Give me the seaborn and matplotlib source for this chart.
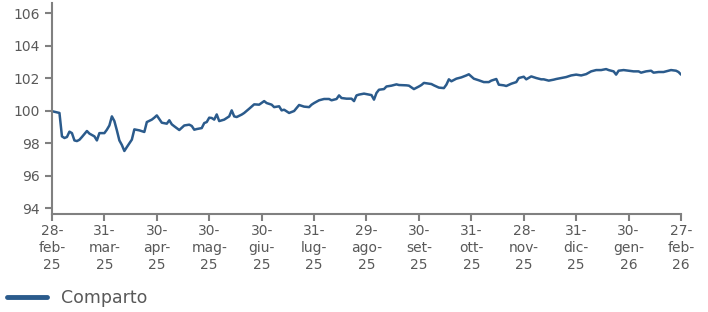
import pandas as pd
import matplotlib.pyplot as plt
from matplotlib.lines import Line2D
import seaborn as sns

# trading-session index (0 = 28-feb-25) and NAV of the fund
day = [0, 3, 4, 5, 6, 7, 8, 9, 10, 11, 12, 14, 15, 17, 18, 19, 21, 22, 23, 24,
       25, 26, 27, 28, 29, 30, 32, 33, 35, 37, 38, 40, 41, 42, 44, 46, 47, 48, 49, 51,
       53, 55, 56, 57, 58, 60, 61, 62, 63, 64, 65, 66, 67, 69, 71, 72, 73, 74, 76, 77,
       79, 81, 83, 85, 86, 88, 89, 91, 92, 93, 95, 97, 98, 99, 101, 103, 104, 105, 107, 109,
       111, 112, 114, 115, 116, 118, 120, 121, 122, 123, 125, 127, 128, 129, 130, 131, 133, 134, 136, 138,
       139, 142, 143, 145, 147, 148, 149, 151, 152, 153, 155, 157, 158, 159, 160, 162, 164, 166, 167, 169,
       171, 173, 175, 176, 178, 179, 181, 182, 184, 186, 187, 189, 190, 192, 194, 196, 197, 199, 201, 202,
       204, 206, 208, 210, 212, 214, 216, 218, 220, 222, 223, 225, 226, 227, 229, 231, 233, 235, 236, 238,
       240, 241, 243, 245, 247, 248, 250, 251, 252]
nav = [99.98, 99.87, 98.43, 98.33, 98.39, 98.72, 98.63, 98.18, 98.14, 98.22,
       98.39, 98.76, 98.60, 98.43, 98.18, 98.63, 98.63, 98.84, 99.10, 99.66,
       99.37, 98.80, 98.18, 97.90, 97.53, 97.77, 98.23, 98.86, 98.80, 98.70,
       99.31, 99.46, 99.58, 99.72, 99.27, 99.21, 99.42, 99.17, 99.05, 98.82,
       99.10, 99.15, 99.07, 98.84, 98.88, 98.94, 99.25, 99.31, 99.58, 99.56,
       99.46, 99.78, 99.37, 99.46, 99.66, 100.03, 99.66, 99.62, 99.77, 99.87,
       100.13, 100.40, 100.38, 100.60, 100.48, 100.38, 100.23, 100.28, 100.03, 100.07,
       99.87, 99.99, 100.17, 100.36, 100.26, 100.23, 100.38, 100.48, 100.65, 100.73,
       100.73, 100.65, 100.73, 100.95, 100.79, 100.75, 100.75, 100.60, 100.95, 101.00,
       101.06, 101.00, 100.97, 100.69, 101.10, 101.30, 101.34, 101.50, 101.55, 101.63,
       101.59, 101.57, 101.55, 101.34, 101.50, 101.59, 101.72, 101.67, 101.65, 101.57,
       101.43, 101.40, 101.61, 101.94, 101.82, 101.98, 102.06, 102.18, 102.25, 101.98,
       101.88, 101.77, 101.77, 101.86, 101.96, 101.61, 101.57, 101.53, 101.67, 101.77,
       102.02, 102.10, 101.94, 102.12, 102.02, 101.94, 101.94, 101.86, 101.92, 101.96,
       102.02, 102.08, 102.18, 102.23, 102.18, 102.26, 102.43, 102.51, 102.51, 102.57,
       102.51, 102.43, 102.23, 102.47, 102.51, 102.47, 102.43, 102.43, 102.35, 102.43,
       102.47, 102.35, 102.39, 102.39, 102.47, 102.51, 102.47, 102.39, 102.23]

tick_days = [0, 21, 42, 63, 84, 105, 126, 147, 168, 189, 210, 231, 252]
tick_labels = ["28-\nfeb-\n25", "31-\nmar-\n25", "30-\napr-\n25", "30-\nmag-\n25",
               "30-\ngiu-\n25", "31-\nlug-\n25", "29-\nago-\n25", "30-\nset-\n25",
               "31-\nott-\n25", "28-\nnov-\n25", "31-\ndic-\n25", "30-\ngen-\n26",
               "27-\nfeb-\n26"]
y_ticks = [94, 96, 98, 100, 102, 104, 106]

line_color = "#2b5b8c"
grey = "#808080"
text_grey = "#595959"

sns.set_style("ticks")
plt.rcParams["font.family"] = ["DejaVu Sans"]

df = pd.DataFrame({"day": day, "nav": nav})

fig = plt.figure(figsize=(7.08, 3.12), dpi=100)
ax = fig.add_axes([0.0734, 0.314, 0.8885, 0.676])

sns.lineplot(data=df, x="day", y="nav", color=line_color, linewidth=1.8, ax=ax, legend=False)

ax.set_xlim(0, 252)
ax.set_ylim(93.65, 106.63)
ax.set_xticks(tick_days)
ax.set_xticklabels(tick_labels, linespacing=1.3)
ax.set_yticks(y_ticks)
ax.set_xlabel("")
ax.set_ylabel("")

sns.despine(ax=ax)
for side in ["left", "bottom"]:
    ax.spines[side].set_color(grey)
    ax.spines[side].set_linewidth(1.5)
ax.tick_params(axis="both", colors=grey, labelcolor=text_grey, labelsize=10,
               length=5, width=1.5)
ax.tick_params(axis="x", pad=2)
ax.tick_params(axis="y", pad=4)

handle = Line2D([], [], color=line_color, linewidth=3.5)
fig.legend([handle], ["Comparto"], loc="lower left", bbox_to_anchor=(-0.012, -0.035),
           frameon=False, fontsize=12.5, labelcolor=text_grey,
           handlelength=2.3, handletextpad=0.8)

fig.savefig("out.png", dpi=100)
